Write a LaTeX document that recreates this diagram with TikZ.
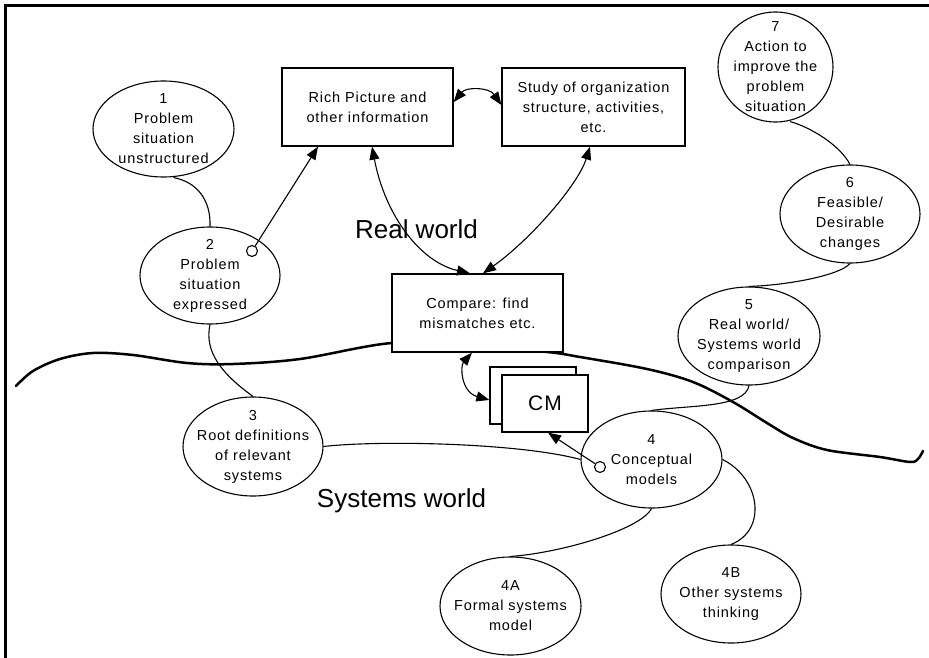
\documentclass[tikz,border=0pt]{standalone}
\usepackage{fontspec}
\setmainfont{Liberation Sans}[LetterSpace=6]
\newfontfamily\bigfont{Liberation Sans}
\usetikzlibrary{shapes.geometric,arrows.meta,calc}
\begin{document}
\begin{tikzpicture}[x=1pt,y=-1pt,
  txt/.style={align=center,font=\fontsize{14.5}{20}\selectfont,inner sep=0pt},
  ell/.style={ellipse,draw,line width=1.1pt,fill=white,inner sep=0pt},
  box/.style={rectangle,draw,line width=1.3pt,fill=white,inner sep=0pt,align=center,font=\fontsize{14.5}{20}\selectfont},
  con/.style={line width=1.1pt},
  tip/.tip={Triangle[length=13pt,width=10pt]},
  arr/.style={con,-tip},
  darr/.style={con,tip-tip},
  dot/.style={circle,draw,line width=1.1pt,fill=white,inner sep=0pt,minimum size=11pt},
  big/.style={font=\bigfont\fontsize{26}{30}\selectfont,inner sep=0pt,anchor=base}]
\useasboundingbox (0,0) rectangle (929,658);
% frame
\draw[line width=3pt] (5,658) -- (5,6) -- (929,6);
% boundary between worlds
\draw[line width=2.5pt,line cap=round] plot[smooth,tension=0.55] coordinates {
 (16,386) (33,371) (60,359) (93,353) (133,355) (187,363) (233,364) (300,359) (392,343)
 (470,346) (547,352) (580,357) (647,369) (693,382) (733,402) (767,423) (793,438)
 (827,450) (880,457) (910,462) (918,459) (923,451)};
% boxes
\node[box,minimum width=171pt,minimum height=78pt] (rich) at (367.5,107) {Rich Picture and\\other information};
\node[box,minimum width=183pt,minimum height=78pt] (study) at (593.5,107) {Study of organization\\structure, activities,\\etc.};
\node[box,minimum width=171pt,minimum height=78pt] (comp) at (477.5,313) {Compare: find\\mismatches etc.};
\node[box,minimum width=86pt,minimum height=57pt] (cmb) at (533,395.5) {};
\node[box,minimum width=86pt,minimum height=57pt,font=\fontsize{21}{24}\selectfont] (cmf) at (545,403.5) {CM};
% ellipses
\node[ell,minimum width=141pt,minimum height=96pt,label={[txt]center:{1\\Problem\\situation\\unstructured}}] (e1) at (163.5,129) {};
\node[ell,minimum width=140pt,minimum height=97pt,label={[txt]center:{2\\Problem\\situation\\expressed}}] (e2) at (210,275.5) {};
\node[ell,minimum width=140pt,minimum height=99pt,label={[txt]center:{3\\Root definitions\\of relevant\\systems}}] (e3) at (253,446.5) {};
\node[ell,minimum width=141pt,minimum height=97pt,label={[txt]center:{4\\Conceptual\\models}}] (e4) at (651.5,459.5) {};
\node[ell,minimum width=141pt,minimum height=98pt,label={[txt]center:{4A\\Formal systems\\model}}] (e4a) at (510.5,606) {};
\node[ell,minimum width=140pt,minimum height=98pt,label={[txt]center:{4B\\Other systems\\thinking}}] (e4b) at (731,594) {};
\node[ell,minimum width=142pt,minimum height=98pt,label={[txt]center:{5\\Real world/\\Systems world\\comparison}}] (e5) at (749,336) {};
\node[ell,minimum width=140pt,minimum height=98pt,label={[txt]center:{6\\Feasible/\\Desirable\\changes}}] (e6) at (850,214) {};
\node[ell,minimum width=115pt,minimum height=110pt,label={[txt]center:{7\\Action to\\improve the\\problem\\situation}}] (e7) at (775.5,67) {};
% world labels
\node[big] (rw) at (416.5,238) {Real world};
\node[big] (sw) at (401.5,507) {Systems world};
% plain connectors between ellipses
\draw[con] ($(e1.south)+(10,0)$) .. controls (197,182) and (211,200) .. (e2.north);
\draw[con] (e2.south) .. controls (204,352) and (222,374) .. (e3.north);
\draw[con] (e3.east) .. controls (380,440) and (520,443) .. (e4.west);
\draw[con] (e4.south) .. controls (640,530) and (560,553) .. (e4a.north);
\draw[con] (e4.east) .. controls (760,478) and (768,530) .. (e4b.north);
\draw[con] (e5.south) .. controls (745,408) and (690,405) .. (e4.north);
\draw[con] (e6.south) .. controls (840,275) and (790,285) .. (e5.north);
\draw[con] ($(e7.south)+(14.5,-1)$) .. controls (810,127) and (840,145) .. (e6.north);
% arrows
\draw[darr] ($(rich.east)+(0,-5)$) .. controls (466,87) and (489,87) .. ($(study.west)+(0,-2)$);
\draw[darr] ($(rich.south)+(4.5,0)$) .. controls (385,215) and (420,262) .. ($(comp.north)+(-7.5,0)$);
\draw[darr] ($(study.south)+(-3.5,0)$) .. controls (578,185) and (530,240) .. ($(comp.north)+(5.5,0)$);
\draw[darr] ($(comp.south)+(-5.5,0)$) .. controls (460,366) and (461,392) .. ($(cmb.west)+(0,4.5)$);
\node[dot] (c2) at (252,251) {};
\node[dot] (c4) at (600,467) {};
\draw[arr] (c2) -- ($(rich.south)+(-49.5,0)$);
\draw[arr] (c4) -- ($(cmf.south)+(3,0)$);
\end{tikzpicture}
\end{document}
